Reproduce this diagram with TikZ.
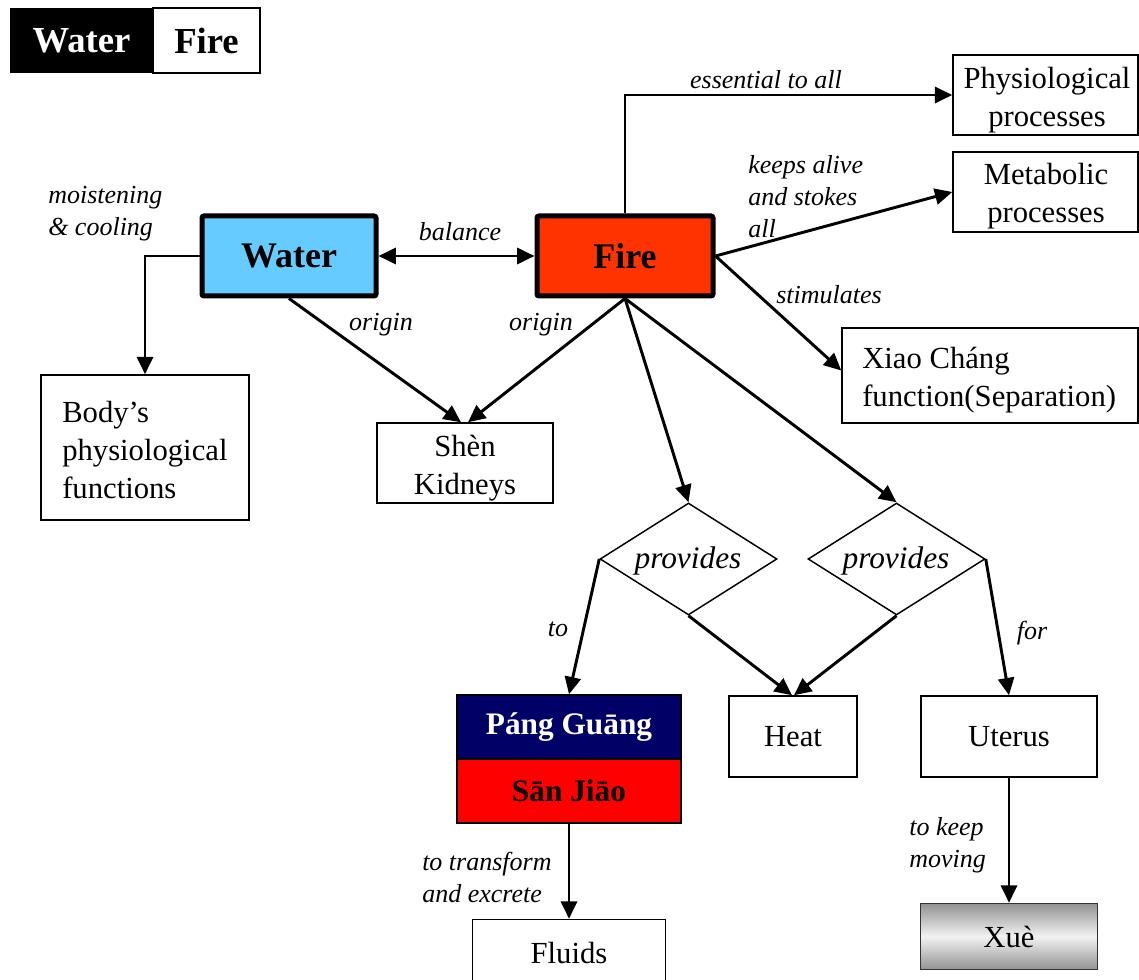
\documentclass[tikz,border=0pt]{standalone}
\usepackage{fontspec}
\setmainfont{Liberation Serif}
\usetikzlibrary{arrows.meta,shapes.geometric,calc}
\definecolor{waterblue}{HTML}{66CCFF}
\definecolor{firered}{HTML}{FF3300}
\definecolor{pangnavy}{HTML}{000066}
\definecolor{sanred}{HTML}{FF0000}
\tikzset{
  tip/.tip={Triangle[length=13pt,width=12pt]},
  conn/.style={line width=2.2pt, -tip},
  plain/.style={draw, line width=1.1pt, inner sep=0pt, align=center,
    font=\fontsize{23}{28.5}\selectfont},
  boxtext/.style={inner sep=0pt, align=left, font=\fontsize{23}{28.5}\selectfont},
  lbl/.style={font=\fontsize{19.5}{24}\selectfont\itshape, inner sep=0pt, align=left},
  big/.style={draw, line width=3.75pt, rounded corners=1.5pt, inner sep=0pt,
    font=\fontsize{27}{32}\selectfont\bfseries, minimum height=60pt},
  legend/.style={inner sep=0pt, minimum height=48.75pt,
    font=\fontsize{27.5}{32}\selectfont\bfseries},
  dia/.style={draw, diamond, line width=1.1pt, inner sep=0pt, shape aspect=1.58,
    minimum width=132.75pt, minimum height=84pt},
  diatext/.style={inner sep=0pt, font=\fontsize{23.5}{28}\selectfont\itshape},
  dual/.style={draw, line width=1.1pt, inner sep=0pt, minimum width=168pt,
    minimum height=48pt, font=\fontsize{23.5}{28}\selectfont\bfseries},
}
\begin{document}
\begin{tikzpicture}[x=0.75pt,y=-0.75pt]
\useasboundingbox (0,0) rectangle (1139,980);

% legend
\node[legend, fill=black, text=white, minimum width=107.25pt] (legW) at (81.5,40.5) {Water};
\node[legend, draw, line width=1.1pt, minimum width=80.25pt] (legF) at (206.5,40.5) {Fire};

% main nodes
\node[big, fill=waterblue, minimum width=130.5pt] (water) at (289,256) {Water};
\node[big, fill=firered, minimum width=132pt] (fire) at (625,256) {Fire};

\node[plain, minimum width=138.75pt, minimum height=60pt] (phys) at (1045.5,95) {};
\node[boxtext, align=center] (physT) at (1047,100) {Physiological\\processes};
\node[plain, minimum width=138.75pt, minimum height=60pt] (metab) at (1045.5,192) {};
\node[boxtext, align=center] (metabT) at (1046,196.5) {Metabolic\\processes};
\node[plain, minimum width=222pt, minimum height=71.25pt] (xiao) at (990,375.5) {};
\node[boxtext, anchor=west] (xiaoT) at (862,380) {Xiao Cháng\\function(Separation)};
\node[plain, minimum width=156pt, minimum height=108.75pt] (body) at (145,447.5) {};
\node[boxtext, anchor=west] (bodyT) at (62,450.5) {Body’s\\physiological\\functions};
\node[plain, minimum width=132pt, minimum height=60pt] (shen) at (465,463) {};
\node[boxtext, align=center] (shenT) at (465,468.5) {Shèn\\Kidneys};

\node[dia] (d1) at (688.5,559) {};
\node[diatext] (d1T) at (688,561) {provides};
\node[dia] (d2) at (896.5,559) {};
\node[diatext] (d2T) at (896,561) {provides};

\node[dual, fill=pangnavy, text=white] (pang) at (569,727) {Páng Guāng};
\node[dual, fill=sanred] (san) at (569,791) {Sān Jiāo};
\node[plain, minimum width=144.75pt, minimum height=50.25pt] (fluids) at (569,953) {Fluids};
\node[plain, minimum width=96pt, minimum height=60.75pt] (heat) at (793,736.5) {Heat};
\node[plain, minimum width=132pt, minimum height=60.75pt] (uterus) at (1009,736.5) {Uterus};
\node[plain, draw=black!80, minimum width=132.75pt, minimum height=49.5pt,
  top color=gray!85, bottom color=gray!85, middle color=gray!10] (xue) at (1009,936.5) {Xuè};

% connectors
\draw[conn] (water.west) -| (body.north);
\draw[line width=2.2pt, tip-tip] (water.east) -- (fire.west);
\draw[conn] (water.south) -- ($(shen.north)+(-4,0)$);
\draw[conn] (fire.south) -- ($(shen.north)+(3,0)$);
\draw[conn] (fire.south) -- (d1.north);
\draw[conn] (fire.south) -- (d2.north);
\draw[conn] (fire.north) |- (phys.west);
\draw[conn] (fire.east) -- (metab.west);
\draw[conn] (fire.east) -- ($(xiao.west)+(0,-5)$);
\draw[conn] (d1.west) -- (pang.north);
\draw[conn] (d1.south) -- ($(heat.north)+(-1,0)$);
\draw[conn] (d2.south) -- ($(heat.north)+(1,0)$);
\draw[conn] (d2.east) -- (uterus.north);
\draw[conn] (san.south) -- (fluids.north);
\draw[conn] (uterus.south) -- (xue.north);

% labels
\node[lbl, anchor=west] (lMoist) at (48,214) {moistening\\\& cooling};
\node[lbl] (lBal) at (460,232) {balance};
\node[lbl] (lOr1) at (381,325) {origin};
\node[lbl] (lOr2) at (541,325) {origin};
\node[lbl] (lEss) at (766,80) {essential to all};
\node[lbl, anchor=west] (lKeep) at (748,197) {keeps alive\\and stokes\\all};
\node[lbl] (lStim) at (829,295) {stimulates};
\node[lbl] (lTo) at (558,629) {to};
\node[lbl] (lFor) at (1032,633) {for};
\node[lbl, anchor=west] (lTrans) at (422,877) {to transform\\and excrete};
\node[lbl, anchor=west] (lMove) at (909,845) {to keep\\moving};
\end{tikzpicture}
\end{document}
